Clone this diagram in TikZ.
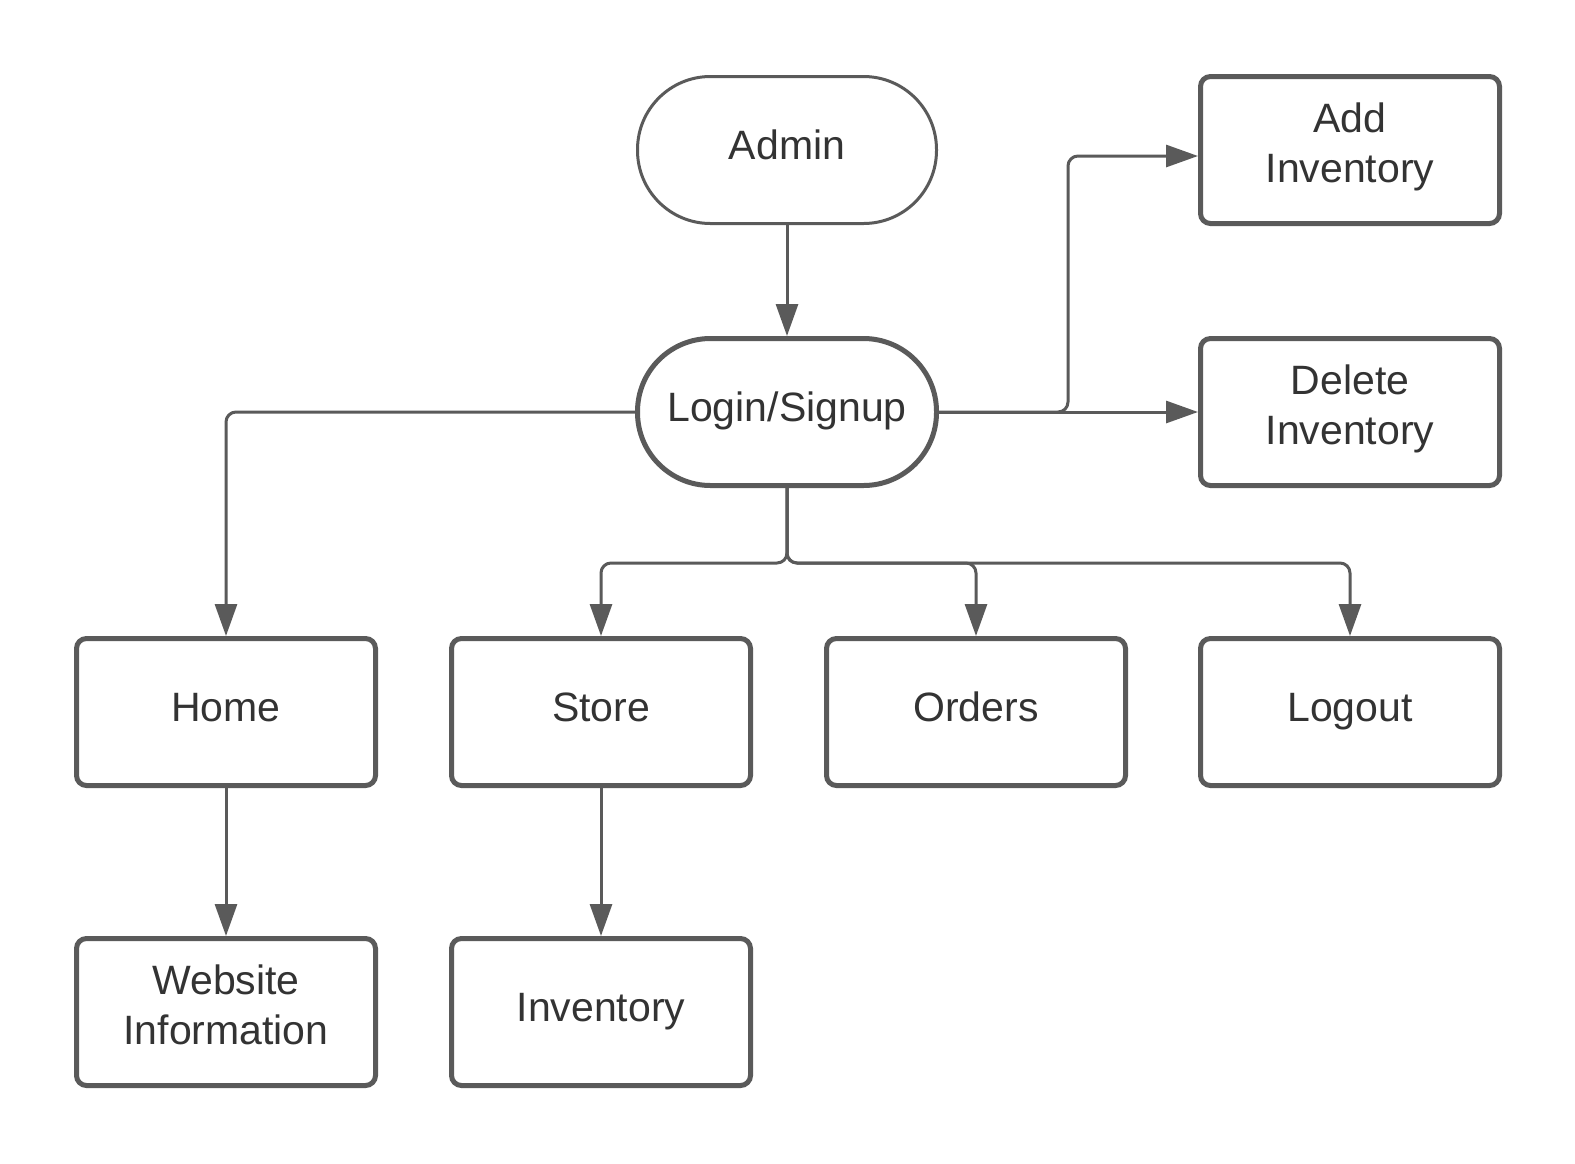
\documentclass[tikz,border=0pt]{standalone}
\usepackage{fontspec}
\setmainfont{Liberation Sans}
\usetikzlibrary{arrows.meta}
\definecolor{linec}{HTML}{5A5A5A}
\definecolor{textc}{HTML}{333333}
\newcommand{\onel}[1]{\raisebox{-9.7pt}[0pt][0pt]{\makebox[0pt]{#1}}}
\newcommand{\twol}[2]{\raisebox{17.3pt}[0pt][0pt]{\makebox[0pt]{#1}}\raisebox{-32.7pt}[0pt][0pt]{\makebox[0pt]{#2}}}
\begin{document}
\begin{tikzpicture}[x=1pt,y=-1pt,
  base/.style={draw=linec, fill=white, text=textc,
    font=\fontsize{41}{49}\selectfont, minimum width=299pt, minimum height=147pt, inner sep=0pt},
  boxnode/.style={base, line width=5pt, rounded corners=10pt},
  termnode/.style={base, line width=3pt, rounded corners=73pt},
  termthick/.style={base, line width=5pt, rounded corners=73pt},
  conn/.style={draw=linec, line width=3pt, rounded corners=10pt,
    -{Triangle[length=32pt,width=22pt]}}]
\useasboundingbox[fill=white] (0,0) rectangle (1575,1163);

\node[termnode]  (admin)  at (787,150)  {\onel{Admin}};
\node[termthick] (login)  at (787,412)  {\onel{Login/Signup}};
\node[boxnode]   (addinv) at (1350,150) {\twol{Add}{Inventory}};
\node[boxnode]   (delinv) at (1350,412) {\twol{Delete}{Inventory}};
\node[boxnode]   (home)   at (226,712)  {\onel{Home}};
\node[boxnode]   (store)  at (601,712)  {\onel{Store}};
\node[boxnode]   (orders) at (976,712)  {\onel{Orders}};
\node[boxnode]   (logout) at (1350,712) {\onel{Logout}};
\node[boxnode]   (web)    at (226,1012) {\twol{Website}{Information}};
\node[boxnode]   (inv)    at (601,1012) {\onel{Inventory}};

\coordinate (j1) at (1068,412);
\coordinate (bus) at (787,563);
\coordinate (addin) at ([yshift=-6pt]addinv.west);

\draw[conn] (admin.south) -- (login.north);
\draw[conn] (login.west) -| (home.north);
\draw[conn] (login.east) -- (delinv.west);
\draw[conn] (login.east) -- (j1) -- (j1 |- addin) -- (addin);
\draw[conn] (login.south) -- (bus) -| (store.north);
\draw[conn] (login.south) -- (bus) -| (orders.north);
\draw[conn] (login.south) -- (bus) -| (logout.north);
\draw[conn] (home.south) -- (web.north);
\draw[conn] (store.south) -- (inv.north);
\end{tikzpicture}
\end{document}
